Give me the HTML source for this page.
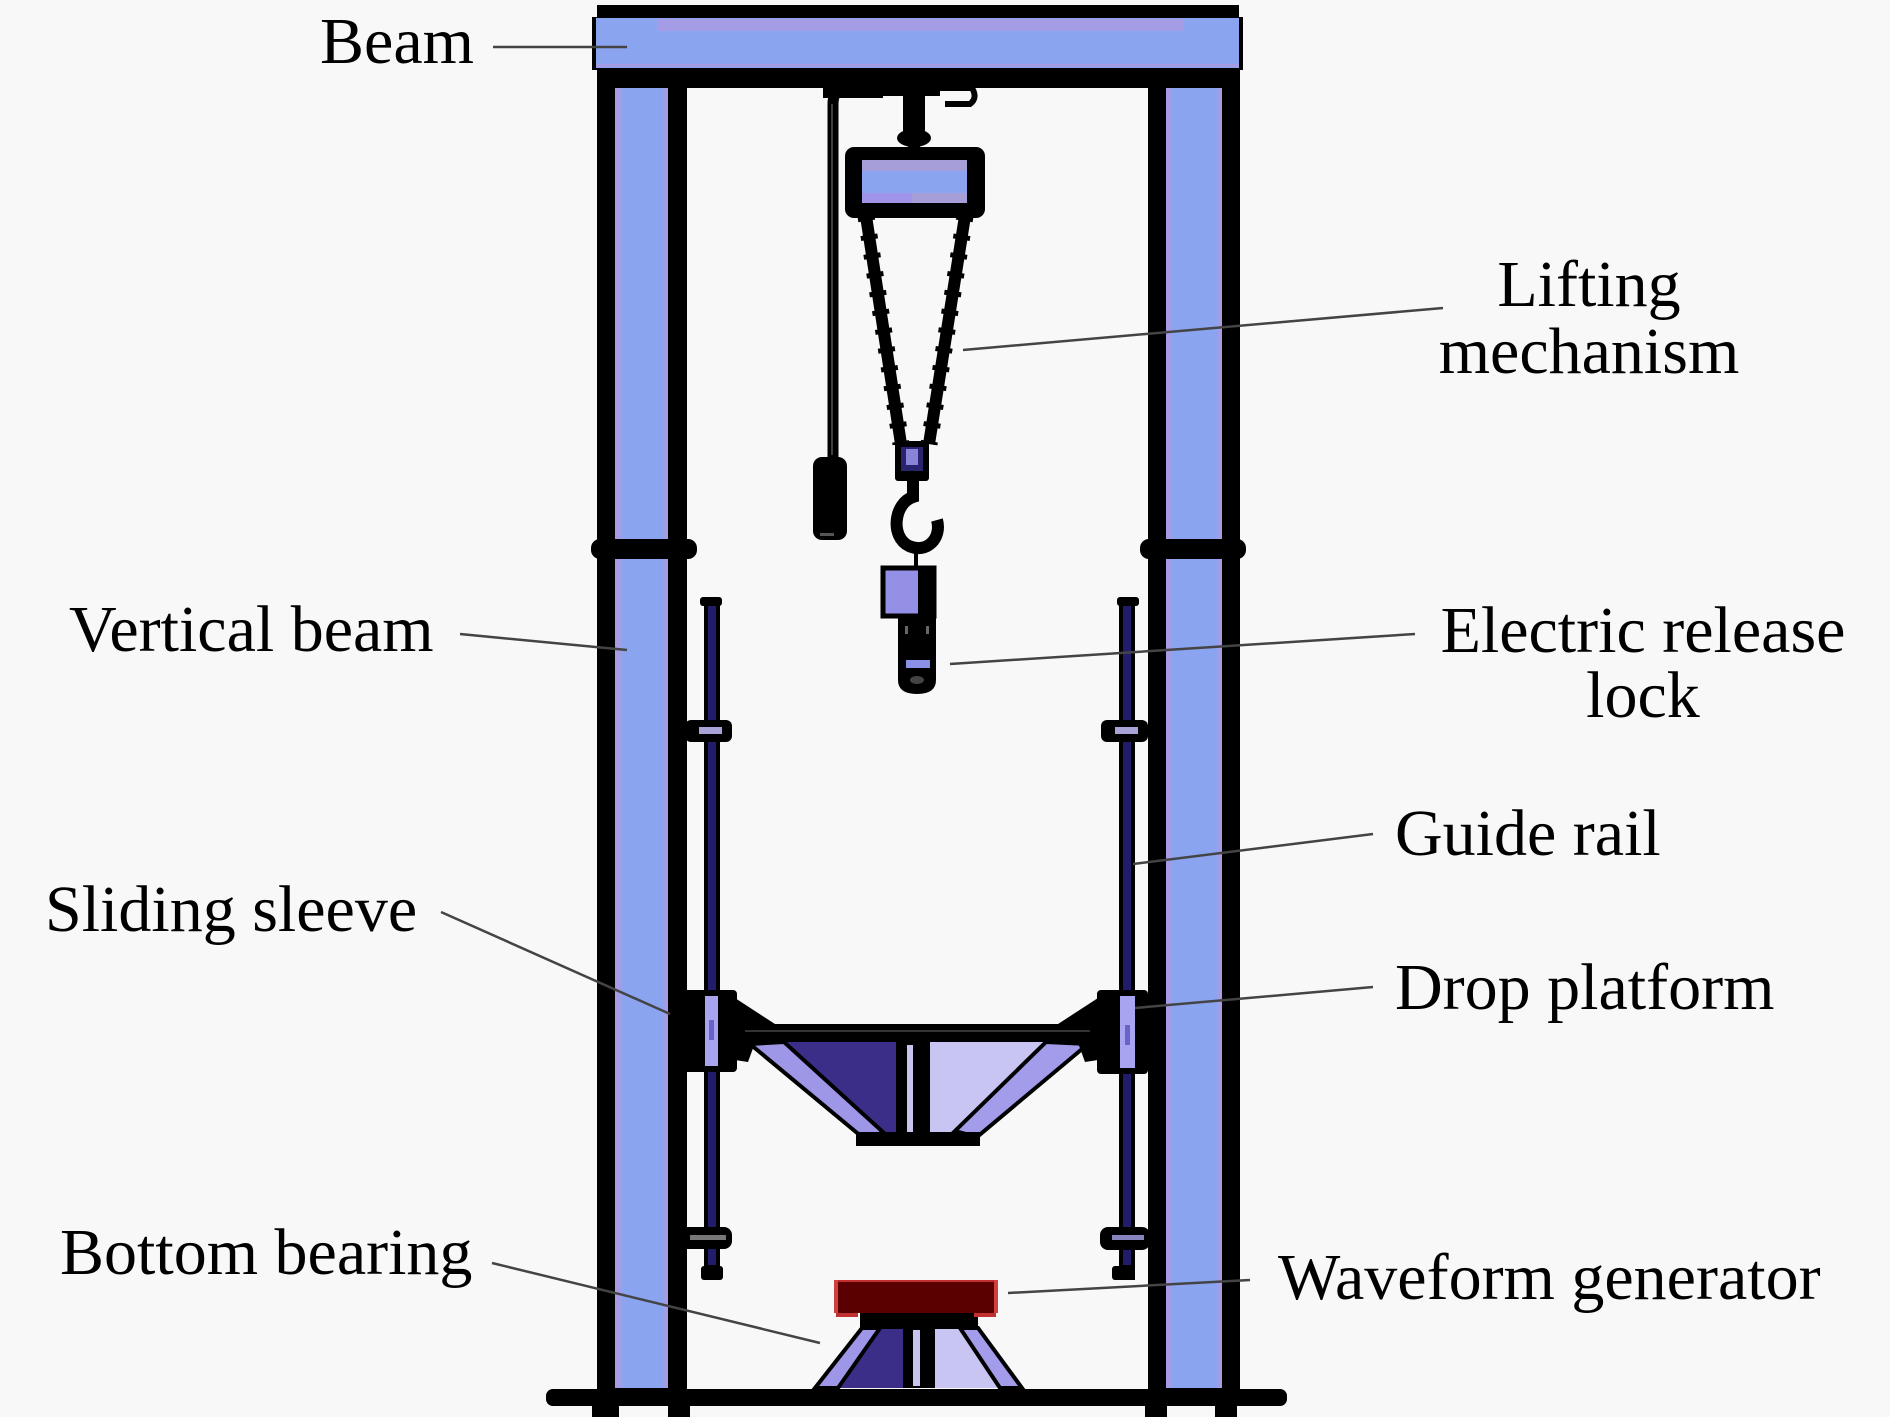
<!DOCTYPE html>
<html>
<head>
<meta charset="utf-8">
<style>
  html,body{margin:0;padding:0;background:#f8f8f8;}
  svg{display:block;}
  text{font-family:"Liberation Serif","Times New Roman",serif;font-size:66px;fill:#000;}
</style>
</head>
<body>
<svg width="1890" height="1417" viewBox="0 0 1890 1417" xmlns="http://www.w3.org/2000/svg">
  <rect x="0" y="0" width="1890" height="1417" fill="#f8f8f8"/>

  <!-- ===== Columns ===== -->
  <rect x="597" y="80" width="90" height="1312" fill="#000"/>
  <rect x="615" y="88" width="53" height="1300" fill="#8aa4f0"/>
  <rect x="615" y="88" width="7" height="1300" fill="#a59ce6"/>
  <rect x="663" y="88" width="5" height="1300" fill="#a59ce6"/>

  <rect x="1148" y="80" width="92" height="1312" fill="#000"/>
  <rect x="1166" y="88" width="56" height="1300" fill="#8aa4f0"/>
  <rect x="1166" y="88" width="6" height="1300" fill="#a59ce6"/>
  <rect x="1217" y="88" width="5" height="1300" fill="#a59ce6"/>

  <!-- ===== Top beam ===== -->
  <rect x="597" y="5" width="642" height="13" fill="#000"/>
  <rect x="592" y="17" width="651" height="53" fill="#000"/>
  <rect x="596" y="18" width="643" height="50" fill="#8aa4f0"/>
  <rect x="657" y="19" width="527" height="12" fill="#a59ce6"/>
  <rect x="596" y="64" width="643" height="3" fill="#a59ce6"/>
  <rect x="597" y="69" width="643" height="19" fill="#000"/>

  <!-- Collars -->
  <rect x="591" y="539" width="106" height="20" rx="9" fill="#000"/>
  <rect x="1140" y="539" width="106" height="20" rx="9" fill="#000"/>

  <!-- ===== Base ===== -->
  <rect x="546" y="1389" width="741" height="17" rx="7" fill="#000"/>
  <rect x="592" y="1400" width="27" height="17" fill="#000"/>
  <rect x="668" y="1400" width="22" height="17" fill="#000"/>
  <rect x="1145" y="1400" width="22" height="17" fill="#000"/>
  <rect x="1215" y="1400" width="22" height="17" fill="#000"/>

  <!-- ===== Guide rails ===== -->
  <rect x="704" y="598" width="16" height="682" fill="#000"/>
  <rect x="708" y="605" width="8" height="660" fill="#221d6a"/>
  <rect x="700" y="597" width="22" height="9" rx="3" fill="#000"/>

  <rect x="1119" y="598" width="16" height="682" fill="#000"/>
  <rect x="1123" y="605" width="8" height="660" fill="#221d6a"/>
  <rect x="1117" y="597" width="22" height="9" rx="3" fill="#000"/>

  <!-- upper brackets -->
  <rect x="685" y="720" width="47" height="22" rx="6" fill="#000"/>
  <rect x="699" y="727" width="23" height="7" fill="#a8a4d8"/>
  <rect x="1101" y="720" width="47" height="22" rx="6" fill="#000"/>
  <rect x="1115" y="727" width="23" height="7" fill="#a8a4d8"/>

  <!-- lower brackets -->
  <rect x="680" y="1227" width="52" height="22" rx="8" fill="#000"/>
  <rect x="690" y="1235" width="36" height="5" fill="#777"/>
  <rect x="701" y="1266" width="22" height="14" rx="3" fill="#000"/>
  <rect x="1100" y="1227" width="50" height="23" rx="8" fill="#000"/>
  <rect x="1112" y="1235" width="32" height="5" fill="#8884c0"/>
  <rect x="1112" y="1266" width="22" height="14" rx="3" fill="#000"/>

  <!-- ===== Hoist ===== -->
  <!-- top fittings -->
  <rect x="823" y="84" width="60" height="14" fill="#000"/>
  <rect x="880" y="84" width="60" height="12" fill="#000"/>
  <path d="M940,88 L972,88 Q978,98 970,104 L945,104" fill="none" stroke="#000" stroke-width="6"/>
  <rect x="903" y="94" width="22" height="38" fill="#000"/>
  <ellipse cx="914" cy="138" rx="17" ry="9" fill="#000"/>
  <rect x="908" y="140" width="12" height="10" fill="#000"/>
  <!-- pull chain + weight -->
  <path d="M842,86 Q833,92 833,104 L833,460" fill="none" stroke="#000" stroke-width="11"/>
  <line x1="832" y1="104" x2="832" y2="455" stroke="#555" stroke-width="1.5"/>
  <rect x="813" y="457" width="34" height="83" rx="9" fill="#000"/>
  <rect x="820" y="533" width="14" height="3" fill="#555"/>
  <!-- hoist body -->
  <rect x="845" y="147" width="140" height="71" rx="9" fill="#000"/>
  <rect x="862" y="160" width="105" height="43" fill="#8aa4f0"/>
  <rect x="862" y="160" width="105" height="11" fill="#a69ed8"/>
  <rect x="862" y="193" width="50" height="10" fill="#a094e8"/>
  <rect x="912" y="193" width="55" height="10" fill="#a69ed8"/>
  <!-- chains -->
  <line x1="866" y1="216" x2="901" y2="444" stroke="#000" stroke-width="12"/>
  <line x1="965" y1="216" x2="929" y2="444" stroke="#000" stroke-width="12"/>
  <line x1="866" y1="216" x2="901" y2="444" stroke="#000" stroke-width="17" stroke-dasharray="5 14"/>
  <line x1="965" y1="216" x2="929" y2="444" stroke="#000" stroke-width="17" stroke-dasharray="5 14"/>
  <!-- hook block -->
  <rect x="895" y="441" width="34" height="40" rx="3" fill="#000"/>
  <rect x="901" y="447" width="22" height="24" fill="#2a2470"/>
  <rect x="906" y="449" width="12" height="16" fill="#8a84d8"/>
  <!-- hook -->
  <path d="M913,480 L913,497 C894,503 890,537 909,546 C927,554 942,538 937,520" fill="none" stroke="#000" stroke-width="12"/>
  <line x1="916" y1="545" x2="916" y2="570" stroke="#000" stroke-width="4"/>

  <!-- ===== Electric release lock ===== -->
  <rect x="883" y="568" width="51" height="48" fill="#9490e6" stroke="#000" stroke-width="5"/>
  <rect x="918" y="570" width="14" height="44" fill="#000"/>
  <path d="M898,614 L936,614 L936,680 Q936,694 917,694 Q898,694 898,680 Z" fill="#000"/>
  <rect x="906" y="660" width="24" height="8" fill="#8a90e8"/>
  <rect x="905" y="626" width="3" height="8" fill="#666"/>
  <rect x="926" y="626" width="3" height="8" fill="#666"/>
  <ellipse cx="917" cy="680" rx="7" ry="4" fill="#444"/>

  <!-- ===== Drop platform ===== -->
  <polygon points="752,1042 897,1042 897,1135 862,1135" fill="#3b2e88"/>
  <polygon points="930,1042 1088,1042 977,1135 930,1135" fill="#c9c5f2"/>
  <polygon points="750,1044 784,1042 884,1133 862,1137" fill="#9e96e6" stroke="#000" stroke-width="4"/>
  <polygon points="1088,1044 1046,1042 955,1131 977,1137" fill="#a29cea" stroke="#000" stroke-width="4"/>
  <rect x="896" y="1042" width="34" height="93" fill="#000"/>
  <rect x="907" y="1045" width="6" height="88" fill="#c8c4f0"/>
  <rect x="856" y="1132" width="124" height="14" fill="#000"/>
  <rect x="735" y="1024" width="363" height="18" fill="#000"/>
  <line x1="745" y1="1031" x2="1090" y2="1031" stroke="#333" stroke-width="2"/>
  <polygon points="735,998 778,1026 735,1030" fill="#000"/>
  <polygon points="1098,998 1055,1026 1098,1030" fill="#000"/>
  <polygon points="735,1040 756,1040 748,1062 735,1060" fill="#000"/>
  <polygon points="1098,1040 1077,1040 1085,1062 1098,1060" fill="#000"/>
  <rect x="682" y="990" width="55" height="82" rx="4" fill="#000"/>
  <rect x="705" y="996" width="13" height="70" fill="#a8a4f0"/>
  <rect x="709" y="1020" width="5" height="20" fill="#6a62c8"/>
  <rect x="1097" y="990" width="51" height="84" rx="4" fill="#000"/>
  <rect x="1120" y="996" width="15" height="72" fill="#a8a4f0"/>
  <rect x="1125" y="1025" width="5" height="20" fill="#6a62c8"/>

  <!-- ===== Waveform generator + stand ===== -->
  <polygon points="880,1328 903,1328 903,1388 838,1388" fill="#3b2e88"/>
  <polygon points="935,1328 960,1328 1000,1388 935,1388" fill="#c9c5f2"/>
  <polygon points="862,1328 880,1328 838,1388 815,1388" fill="#9e96e6" stroke="#000" stroke-width="4"/>
  <polygon points="960,1328 978,1328 1022,1388 1000,1388" fill="#a29cea" stroke="#000" stroke-width="4"/>
  <rect x="903" y="1328" width="32" height="60" fill="#000"/>
  <rect x="913" y="1330" width="7" height="56" fill="#c8c4f0"/>
  <rect x="860" y="1312" width="118" height="17" fill="#000"/>
  <rect x="834" y="1280" width="164" height="33" fill="#5a0000"/>
  <rect x="834" y="1280" width="164" height="2" fill="#c03030"/>
  <rect x="834" y="1280" width="4" height="33" fill="#d04040"/>
  <rect x="994" y="1280" width="4" height="33" fill="#d04040"/>
  <rect x="836" y="1313" width="22" height="4" fill="#c03030"/>
  <rect x="974" y="1313" width="22" height="4" fill="#c03030"/>

  <!-- ===== Leader lines ===== -->
  <g stroke="#444" stroke-width="2.5" fill="none">
    <line x1="493" y1="47" x2="627" y2="47"/>
    <line x1="963" y1="350" x2="1443" y2="308"/>
    <line x1="460" y1="634" x2="627" y2="650"/>
    <line x1="950" y1="664" x2="1415" y2="634"/>
    <line x1="1133" y1="864" x2="1373" y2="834"/>
    <line x1="441" y1="912" x2="670" y2="1014"/>
    <line x1="1135" y1="1008" x2="1373" y2="987"/>
    <line x1="492" y1="1263" x2="820" y2="1343"/>
    <line x1="1008" y1="1293" x2="1250" y2="1280"/>
  </g>

  <!-- ===== Labels ===== -->
  <text x="320" y="63">Beam</text>
  <text x="1589" y="306" text-anchor="middle">Lifting</text>
  <text x="1589" y="373" text-anchor="middle">mechanism</text>
  <text x="69" y="651">Vertical beam</text>
  <text x="1643" y="652" text-anchor="middle">Electric release</text>
  <text x="1643" y="717" text-anchor="middle">lock</text>
  <text x="1395" y="855">Guide rail</text>
  <text x="45" y="931">Sliding sleeve</text>
  <text x="1395" y="1009">Drop platform</text>
  <text x="60" y="1274">Bottom bearing</text>
  <text x="1278" y="1299">Waveform generator</text>
</svg>
</body>
</html>
